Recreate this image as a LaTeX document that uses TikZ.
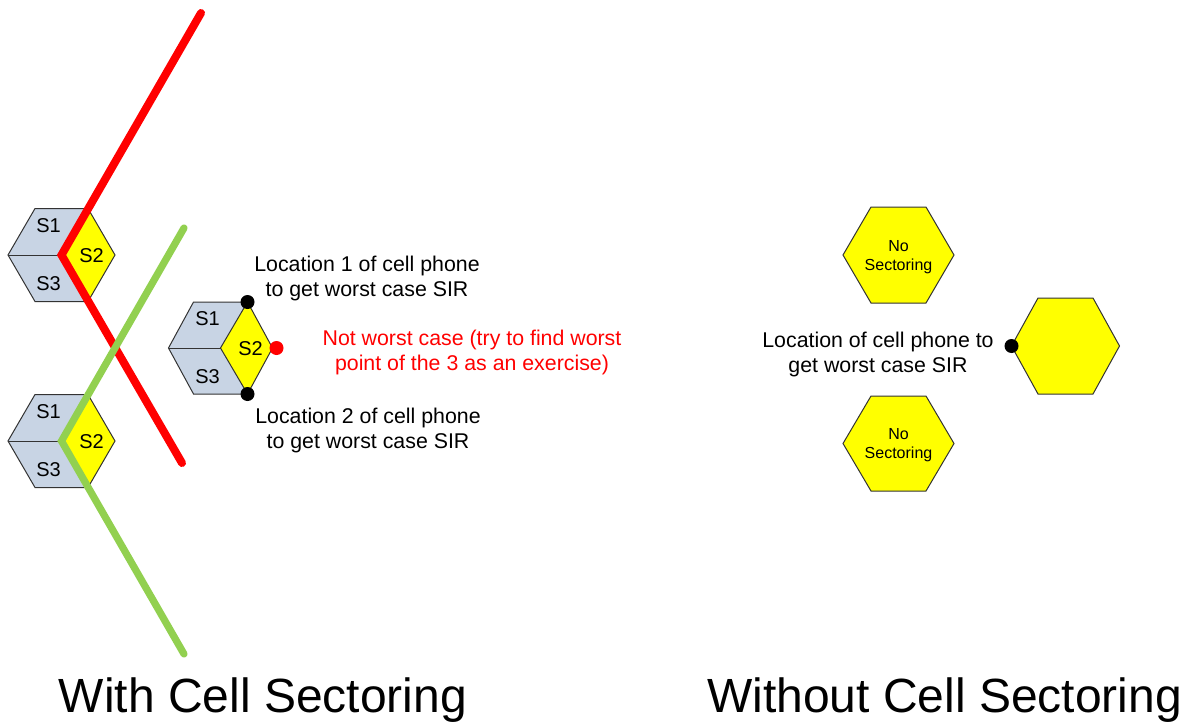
\documentclass[tikz,border=0pt]{standalone}
\usepackage{fontspec}
\setmainfont{Liberation Sans}
\definecolor{cellgray}{RGB}{200,212,228}
\definecolor{cellyellow}{RGB}{255,255,0}
\definecolor{lgreen}{RGB}{146,208,80}
\definecolor{lred}{RGB}{255,0,0}
\tikzset{
  hexline/.style={draw=black!80, line width=0.75pt, line join=miter},
  slabel/.style={font=\fontsize{15}{17}\selectfont, inner sep=0pt},
  nolabel/.style={font=\fontsize{12}{14.25}\selectfont, align=center, inner sep=0pt},
  note/.style={font=\fontsize{16}{18.75}\selectfont, align=center, inner sep=0pt, anchor=north},
  titletext/.style={font=\fontsize{36}{40}\selectfont, inner sep=0pt, anchor=base},
  phonedot/.style={circle, fill=black, inner sep=0pt, minimum size=10.5pt},
  redcut/.style={draw=lred, line width=6pt, line cap=round, line join=miter},
  greencut/.style={draw=lgreen, line width=5.4pt, line cap=round, line join=miter},
  pics/sechex/.style n args={3}{code={
    \fill[cellgray] (-#1,0) -- (-#2,-#3) -- (#2,-#3) -- (#1,0) -- (#2,#3) -- (-#2,#3) -- cycle;
    \fill[cellyellow] (0,0) -- (#2,-#3) -- (#1,0) -- (#2,#3) -- cycle;
    \draw[hexline] (-#1,0) -- (-#2,-#3) -- (#2,-#3) -- (#1,0) -- (#2,#3) -- (-#2,#3) -- cycle;
    \draw[hexline] (-#1,0) -- (0,0);
    \draw[hexline] (#2,-#3) -- (0,0) -- (#2,#3);
    \coordinate (-c) at (0,0);
    \coordinate (-tr) at (#2,-#3);
    \coordinate (-br) at (#2,#3);
    \coordinate (-r) at (#1,0);
    \node[slabel] (-s1) at (-13,-29) {S1};
    \node[slabel] (-s3) at (-13,29) {S3};
    \node[slabel] (-s2) at (30,1) {S2};
  }},
  pics/plainhex/.style n args={3}{code={
    \draw[hexline, fill=cellyellow] (-#1,0) -- (-#2,-#3) -- (#2,-#3) -- (#1,0) -- (#2,#3) -- (-#2,#3) -- cycle;
    \coordinate (-c) at (0,0);
    \coordinate (-l) at (-#1,0);
  }}
}
\begin{document}
\begin{tikzpicture}[x=0.75pt,y=-0.75pt]
\useasboundingbox (0,0) rectangle (1185,721);

% sectored cells
\pic (hexA) at (61.5,255) {sechex={53.5}{26.5}{46.5}};
\pic (hexB) at (61.5,441) {sechex={53.5}{26.5}{46.5}};
\pic (hexC) at (220.5,348) {sechex={52}{27}{46}};

% cut lines
\coordinate (redtop) at (201,13);
\coordinate (redbot) at (182,463);
\coordinate (greentop) at (184,228);
\coordinate (greenbot) at (184,654);
\draw[redcut] (redtop) -- (hexA-c) -- (redbot);
\draw[greencut] (greentop) -- (hexB-c) -- (greenbot);

% phone locations
\node[phonedot] (loc1) at (hexC-tr) {};
\node[phonedot] (loc2) at (hexC-br) {};
\node[phonedot, fill=lred, xshift=3pt] (loc3) at (hexC-r) {};

\node[note] (t1) at (367,255.5) {Location 1 of cell phone\\to get worst case SIR};
\node[note] (t2) at (368,408) {Location 2 of cell phone\\to get worst case SIR};
\node[note, text=lred] (t3) at (472,329.5) {Not worst case (try to find worst\\point of the 3 as an exercise)};

% non-sectored cells
\pic (hexD) at (898.5,255) {plainhex={55.5}{27.5}{48}};
\pic (hexE) at (898.5,443.5) {plainhex={55.5}{27.5}{47.5}};
\pic (hexF) at (1065.5,346) {plainhex={54}{27.5}{48}};
\node[nolabel] (nsD) at (898.5,257) {No\\Sectoring};
\node[nolabel] (nsE) at (898.5,445.5) {No\\Sectoring};
\node[phonedot] (loc4) at (hexF-l) {};
\node[note] (t4) at (878,332) {Location of cell phone to\\get worst case SIR};

% titles
\node[titletext] (title1) at (263,712) {With Cell Sectoring};
\node[titletext] (title2) at (944.5,712) {Without Cell Sectoring};
\end{tikzpicture}
\end{document}
